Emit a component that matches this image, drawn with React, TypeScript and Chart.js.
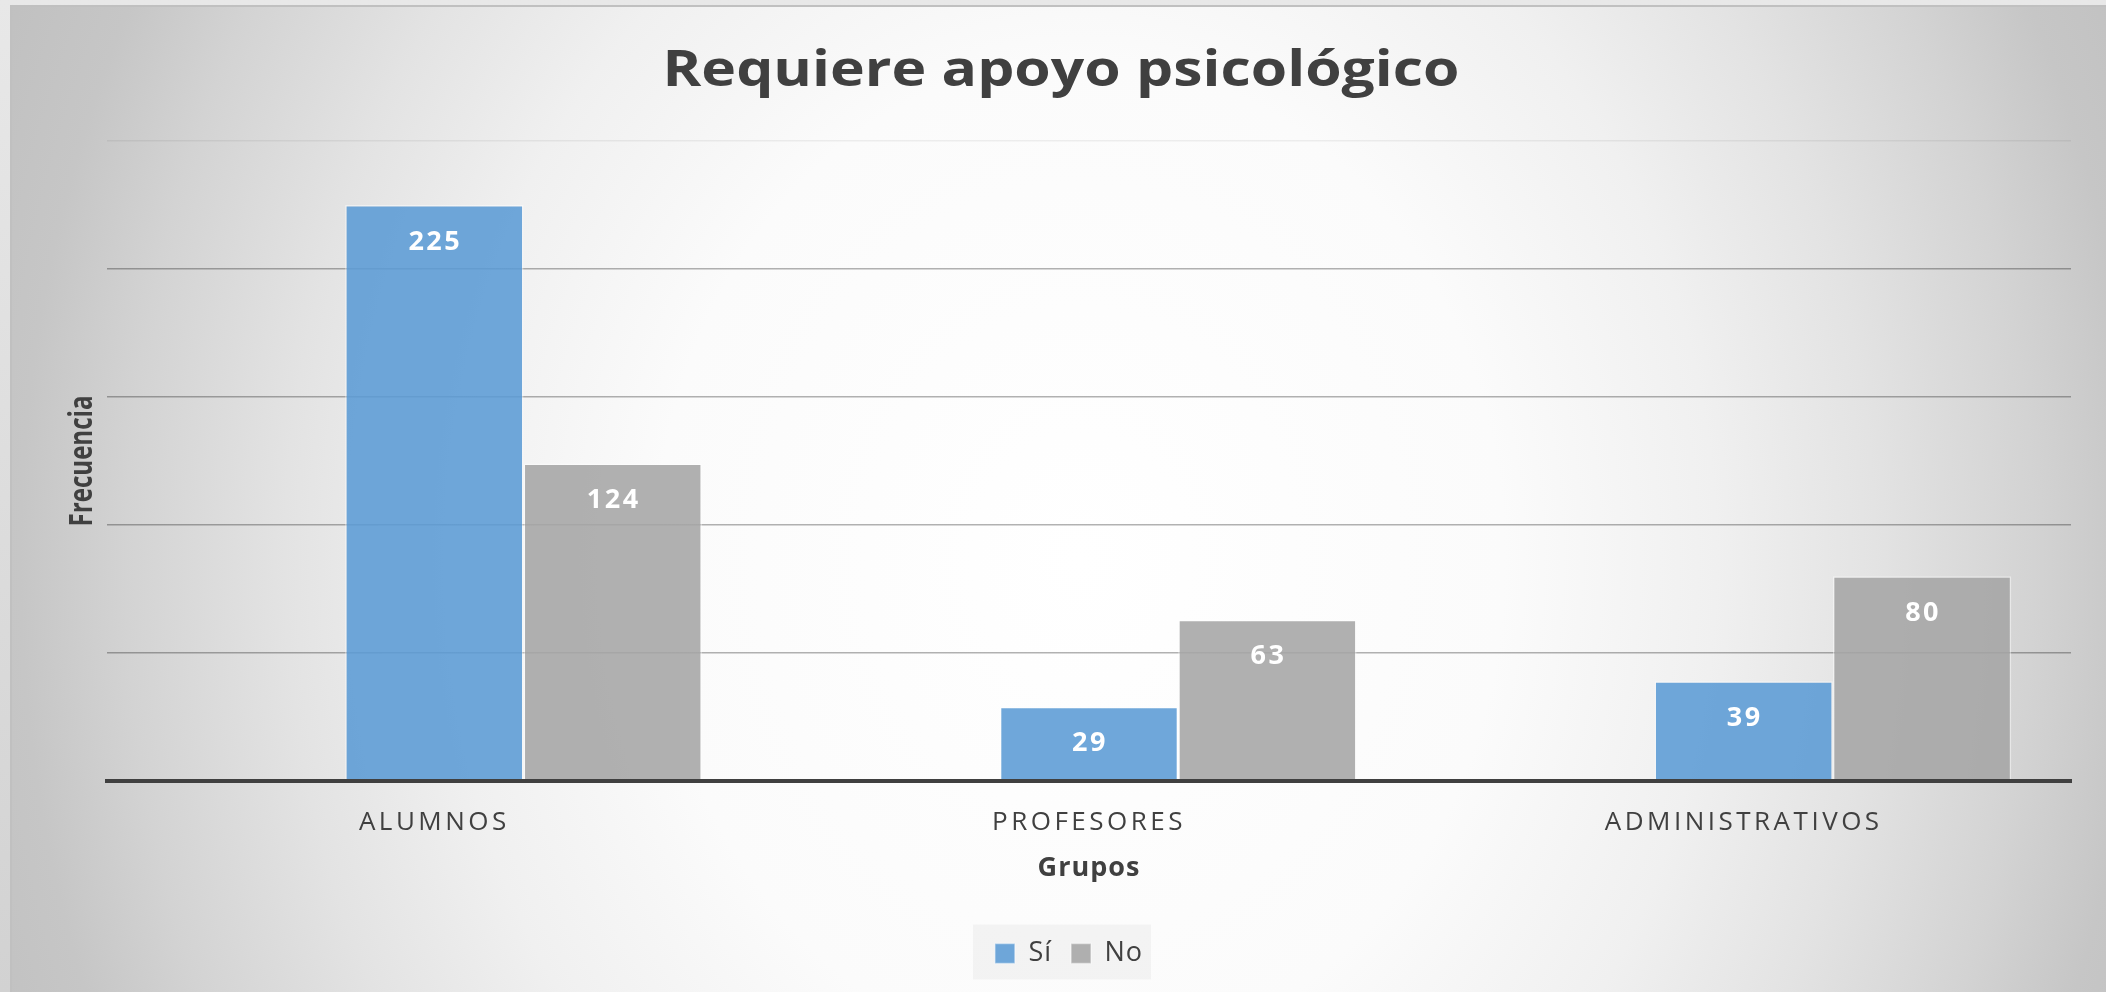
import React, { useEffect, useRef } from 'react';
import { Chart, registerables } from 'chart.js';

Chart.register(...registerables);

// ---- data ----
const categories = ['ALUMNOS', 'PROFESORES', 'ADMINISTRATIVOS'];
const seriesNames = ['Sí', 'No'];
const siValues = [225, 29, 39];
const noValues = [124, 63, 80];
const yTicks = [0, 50, 100, 150, 200, 250];

const chartTitle = 'Requiere apoyo psicológico';
const xTitle = 'Grupos';
const yTitle = 'Frecuencia';

// ---- style ----
const W = 2106;
const H = 992;
const TEXT = '#404040';
const CAT_PCT = 0.545;
const BAR_PCT = 1.0;
const TITLE_WIDTH = 797; // stretched title width
const Y_TITLE_LEN = 131; // condensed axis title length
const LEGEND_SHIFT_X = 6;
const LEGEND_SHIFT_Y = 3;

function patchOnce(obj: any, key: string, make: (orig: any) => any) {
  if (!obj || obj['__p_' + key]) return;
  const orig = obj[key];
  obj[key] = make(orig);
  obj['__p_' + key] = true;
}

const bgPlugin = {
  id: 'bgPlugin',
  beforeDraw(chart: any) {
    const { ctx, width, height } = chart;
    ctx.save();
    const og = ctx.createLinearGradient(0, 0, 0, height);
    og.addColorStop(0, '#e8e8e8');
    og.addColorStop(1, '#d2d2d2');
    ctx.fillStyle = og;
    ctx.fillRect(0, 0, width, height);

    const fx = 10, fy = 5;
    ctx.beginPath();
    ctx.rect(fx, fy, width - fx, height - fy);
    ctx.clip();
    const k = 1.3;
    const cx = 1080, cy = 560, rx = 1060 * k, ry = 1250 * k;
    ctx.save();
    ctx.translate(cx, cy);
    ctx.scale(1, ry / rx);
    const g = ctx.createRadialGradient(0, 0, 0, 0, 0, rx);
    g.addColorStop(0, '#ffffff');
    g.addColorStop(0.4 / k, '#fbfbfb');
    g.addColorStop(0.6 / k, '#f0f0f0');
    g.addColorStop(0.75 / k, '#e3e3e3');
    g.addColorStop(0.9 / k, '#d3d3d3');
    g.addColorStop(1.0 / k, '#c6c6c6');
    g.addColorStop(1, '#b6b6b6');
    ctx.fillStyle = g;
    ctx.fillRect(-cx - 20, (-cy - 20) * (rx / ry), width + 40, (height + 40) * (rx / ry));
    ctx.restore();
    ctx.fillStyle = '#c0c0c0';
    ctx.fillRect(fx, fy, width - fx, 2);
    ctx.fillRect(fx, fy, 2, height - fy);
    ctx.restore();

    // legend backdrop
    const lg = chart.legend;
    if (lg && lg.legendHitBoxes && lg.legendHitBoxes.length) {
      const hb = lg.legendHitBoxes;
      const first = hb[0];
      const last = hb[hb.length - 1];
      const cyL = first.top + first.height / 2 + LEGEND_SHIFT_Y;
      const l = first.left - 22 + LEGEND_SHIFT_X;
      const r = last.left + last.width + 12 + LEGEND_SHIFT_X;
      ctx.save();
      ctx.fillStyle = 'rgba(0,0,0,0.035)';
      ctx.fillRect(l, cyL - 29, r - l, 55);
      ctx.restore();
    }

    // category labels: letter spacing
    patchOnce(chart.scales.x, 'drawLabels', (orig) => function (this: any, area: any) {
      const c = this.ctx;
      c.save();
      c.letterSpacing = '3.5px';
      orig.call(this, area);
      c.restore();
    });
    // x axis title: slight letter spacing
    patchOnce(chart.scales.x, 'drawTitle', (orig) => function (this: any) {
      const c = this.ctx;
      c.save();
      c.letterSpacing = '1px';
      orig.call(this);
      c.restore();
    });
    // y axis title: condensed along its length
    patchOnce(chart.scales.y, 'drawTitle', (orig) => function (this: any) {
      const c = this.ctx;
      const f = this.options.title.font;
      c.save();
      c.font = `bold ${f.size}px ${f.family}`;
      const w = c.measureText(this.options.title.text).width;
      c.restore();
      const s = w > 0 ? Y_TITLE_LEN / w : 1;
      const mid = (this.top + this.bottom) / 2;
      c.save();
      c.translate(0, mid);
      c.scale(1, s);
      c.translate(0, -mid);
      orig.call(this);
      c.restore();
    });
    // chart title: stretched horizontally
    patchOnce(chart.titleBlock, 'draw', (orig) => function (this: any, area: any) {
      const c = this.ctx;
      const f = this.options.font;
      c.save();
      c.font = `bold ${f.size}px ${f.family}`;
      const w = c.measureText(this.options.text).width;
      c.restore();
      const s = w > 0 ? TITLE_WIDTH / w : 1;
      const mid = (this.left + this.right) / 2;
      c.save();
      c.translate(mid, 0);
      c.scale(s, 1);
      c.translate(-mid, 0);
      orig.call(this, area);
      c.restore();
    });
    // legend: letter spacing and small shift
    patchOnce(chart.legend, 'draw', (orig) => function (this: any) {
      const c = this.ctx;
      c.save();
      c.translate(LEGEND_SHIFT_X, LEGEND_SHIFT_Y);
      c.letterSpacing = '1px';
      orig.call(this);
      c.restore();
    });
  },
};

const barShiftPlugin = {
  id: 'barShift',
  afterDatasetsUpdate(chart: any) {
    const xs = chart.scales.x;
    const n = chart.data.labels.length;
    const shift = (xs.width / n) * CAT_PCT / 4;
    chart.data.datasets.forEach((_: any, i: number) => {
      chart.getDatasetMeta(i).data.forEach((el: any) => {
        el.x += shift;
      });
    });
  },
};

const dataLabelPlugin = {
  id: 'dataLabels',
  afterDatasetsDraw(chart: any) {
    const { ctx } = chart;
    ctx.save();
    ctx.font = 'bold 27px "Open Sans"';
    ctx.fillStyle = '#ffffff';
    ctx.textAlign = 'center';
    ctx.textBaseline = 'middle';
    ctx.letterSpacing = '2.5px';
    chart.data.datasets.forEach((ds: any, i: number) => {
      chart.getDatasetMeta(i).data.forEach((el: any, j: number) => {
        ctx.fillText(String(ds.data[j]), el.x + 1, el.y + 37);
      });
    });
    ctx.restore();
  },
};

export default function App() {
  const ref = useRef<HTMLCanvasElement | null>(null);

  useEffect(() => {
    document.body.style.margin = '0';
    document.body.style.overflow = 'hidden';
    const canvas = ref.current;
    if (!canvas) return;
    const chart = new Chart(canvas, {
      type: 'bar',
      data: {
        labels: categories,
        datasets: [
          {
            label: seriesNames[0],
            data: siValues,
            backgroundColor: 'rgba(91,155,213,0.88)',
            borderColor: 'rgba(255,255,255,0.45)',
            borderWidth: 1.5,
            categoryPercentage: CAT_PCT,
            barPercentage: BAR_PCT,
          },
          {
            label: seriesNames[1],
            data: noValues,
            backgroundColor: 'rgba(165,165,165,0.88)',
            borderColor: 'rgba(255,255,255,0.45)',
            borderWidth: 1.5,
            categoryPercentage: CAT_PCT,
            barPercentage: BAR_PCT,
          },
        ],
      },
      options: {
        responsive: false,
        animation: false,
        devicePixelRatio: 1,
        events: [],
        layout: { padding: { left: 51, right: 35, top: 5, bottom: 18 } },
        plugins: {
          title: {
            display: true,
            text: chartTitle,
            color: TEXT,
            font: { family: '"Open Sans"', weight: 'bold', size: 50 },
            padding: { top: 37, bottom: 39 },
          },
          legend: {
            position: 'bottom',
            labels: {
              boxWidth: 20,
              boxHeight: 20,
              padding: 19,
              color: TEXT,
              font: { family: '"Open Sans"', size: 27 },
            },
          },
          tooltip: { enabled: false },
        },
        scales: {
          x: {
            grid: { display: false, drawTicks: false },
            border: { display: true, color: TEXT, width: 4, z: 1 },
            ticks: {
              color: TEXT,
              font: { family: '"Open Sans"', size: 26 },
              padding: 26,
              maxRotation: 0,
              autoSkip: false,
            },
            title: {
              display: true,
              text: xTitle,
              color: TEXT,
              font: { family: '"Open Sans"', weight: 'bold', size: 27 },
              padding: { top: 0, bottom: 33 },
            },
            afterFit: (s: any) => {
              s.height = 137;
            },
          },
          y: {
            min: yTicks[0],
            max: yTicks[yTicks.length - 1],
            ticks: { display: false, stepSize: yTicks[1] - yTicks[0] },
            grid: {
              drawTicks: false,
              lineWidth: 1.5,
              color: (c: any) => {
                const v = c.tick ? c.tick.value : 0;
                if (v === yTicks[0]) return 'rgba(0,0,0,0)';
                if (v === yTicks[yTicks.length - 1]) return 'rgba(0,0,0,0.06)';
                return 'rgba(0,0,0,0.3)';
              },
            },
            border: { display: false },
            title: {
              display: true,
              text: yTitle,
              color: TEXT,
              font: { family: '"Open Sans"', weight: 'bold', size: 33 },
              padding: { top: 12, bottom: 0 },
            },
            afterFit: (s: any) => {
              s.width = 56;
            },
          },
        },
      } as any,
      plugins: [bgPlugin, barShiftPlugin, dataLabelPlugin],
    });
    return () => chart.destroy();
  }, []);

  return (
    <div style={{ width: W, height: H }}>
      <canvas ref={ref} width={W} height={H} style={{ display: 'block', width: W, height: H }} />
    </div>
  );
}
